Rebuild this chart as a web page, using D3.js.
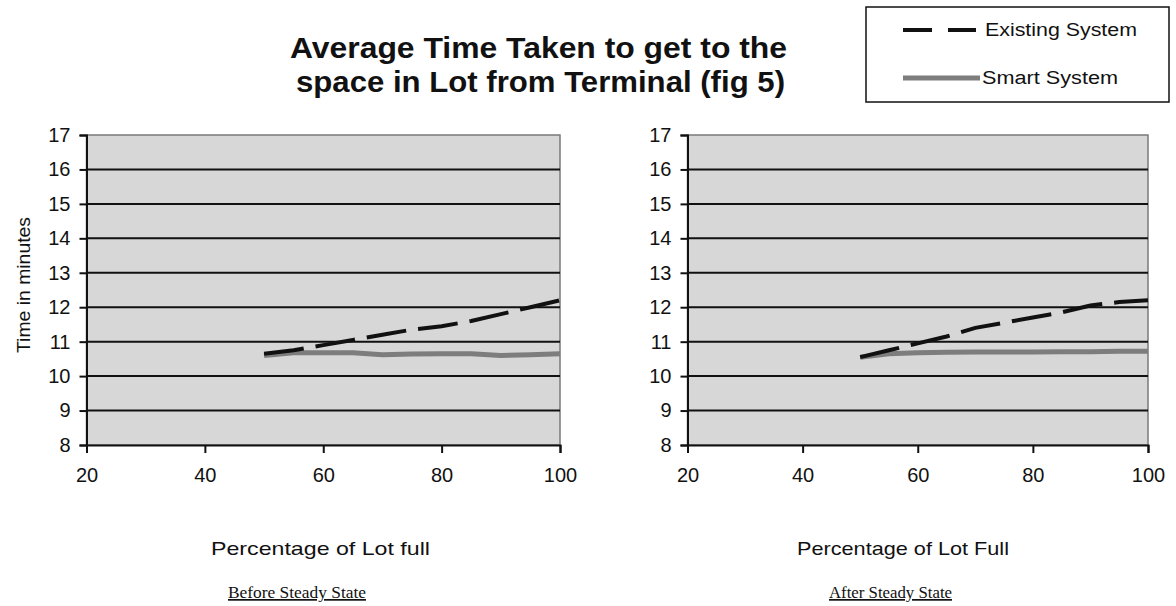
<!DOCTYPE html>
<html>
<head>
<meta charset="utf-8" />
<title>Average Time Taken (fig 5)</title>
<style>
    body { margin: 0; background: #fff; }
    svg { display: block; }
    text { font-family: "Liberation Sans", Arial, sans-serif; fill: #111; }
    .serif { font-family: "Liberation Serif", "Times New Roman", serif; text-decoration: underline; }
</style>
</head>
<body>
<svg width="1176" height="606"></svg>

<script src="https://cdnjs.cloudflare.com/ajax/libs/d3/7.8.5/d3.min.js"></script>
<script>
// data
var percent = [50, 55, 60, 65, 70, 75, 80, 85, 90, 95, 100];
var beforeExisting = [10.65, 10.75, 10.9, 11.05, 11.2, 11.35, 11.45, 11.6, 11.8, 12.0, 12.2];
var beforeSmart = [10.6, 10.68, 10.68, 10.68, 10.62, 10.64, 10.65, 10.65, 10.6, 10.62, 10.65];
var afterExisting = [10.55, 10.75, 10.95, 11.15, 11.4, 11.55, 11.7, 11.85, 12.05, 12.15, 12.2];
var afterSmart = [10.55, 10.65, 10.68, 10.69, 10.7, 10.7, 10.7, 10.71, 10.71, 10.72, 10.72];
var xTicks = [20, 40, 60, 80, 100];
var yTicks = [8, 9, 10, 11, 12, 13, 14, 15, 16, 17];

var svg = d3.select('svg');

// text helper: size for height, textLength for the wide look of the original
function label(parent, x, y, txt, size, len) {
    var t = parent.append('text')
        .attr('x', x).attr('y', y)
        .style('font-size', size + 'px')
        .text(txt);
    if (len) t.attr('textLength', len).attr('lengthAdjust', 'spacingAndGlyphs');
    return t;
}

function drawPanel(opt) {
    var x = d3.scaleLinear().domain([20, 100]).range([opt.x0, opt.x1]);
    var y = d3.scaleLinear().domain([8, 17]).range([445, 135]);
    var g = svg.append('g');

    g.append('rect')
        .attr('x', x(20)).attr('y', y(17))
        .attr('width', x(100) - x(20)).attr('height', y(8) - y(17))
        .attr('fill', '#d7d7d7')
        .attr('stroke', '#7a7a7a').attr('stroke-width', 1.5);

    // gridlines
    g.selectAll('.grid')
        .data(yTicks.filter(function (d) { return d > 8 && d < 17; }))
        .enter().append('line')
        .attr('x1', x(20)).attr('x2', x(100))
        .attr('y1', function (d) { return y(d); })
        .attr('y2', function (d) { return y(d); })
        .attr('stroke', '#111').attr('stroke-width', 2);

    var yAxis = g.append('g')
        .attr('transform', 'translate(' + x(20) + ',0)')
        .call(d3.axisLeft(y).tickValues(yTicks).tickSize(7).tickPadding(9));
    var xAxis = g.append('g')
        .attr('transform', 'translate(0,' + y(8) + ')')
        .call(d3.axisBottom(x).tickValues(xTicks).tickSize(8).tickPadding(15));
    [yAxis, xAxis].forEach(function (a) {
        a.select('.domain').attr('stroke', '#111').attr('stroke-width', 2);
        a.selectAll('.tick line').attr('stroke', '#111').attr('stroke-width', 2);
        a.selectAll('.tick text')
            .style('font-family', '"Liberation Sans", Arial, sans-serif')
            .style('font-size', '20px').attr('fill', '#111');
    });

    var line = d3.line()
        .x(function (d, i) { return x(percent[i]); })
        .y(function (d) { return y(d); });

    g.append('path')
        .attr('d', line(opt.smart))
        .attr('fill', 'none')
        .attr('stroke', '#7d7d7d').attr('stroke-width', 5);
    g.append('path')
        .attr('d', line(opt.existing))
        .attr('fill', 'none')
        .attr('stroke', '#111').attr('stroke-width', 4)
        .attr('stroke-dasharray', '40,12');

    label(g, opt.titleX, 555, opt.xTitle, 19, opt.titleLen);
    label(g, opt.subX, 598, opt.sub, 17, opt.subLen).attr('class', 'serif');
}

drawPanel({
    x0: 86.5, x1: 560, existing: beforeExisting, smart: beforeSmart,
    xTitle: 'Percentage of Lot full', titleX: 211, titleLen: 219,
    sub: 'Before Steady State', subX: 228, subLen: 138
});
drawPanel({
    x0: 687.5, x1: 1148, existing: afterExisting, smart: afterSmart,
    xTitle: 'Percentage of Lot Full', titleX: 797, titleLen: 212,
    sub: 'After Steady State', subX: 829, subLen: 123
});

// y title
svg.append('text')
    .attr('transform', 'translate(30,285) rotate(-90)')
    .attr('text-anchor', 'middle')
    .style('font-size', '18px')
    .attr('textLength', 136).attr('lengthAdjust', 'spacingAndGlyphs')
    .text('Time in minutes');

// main title
label(svg, 290, 58, 'Average Time Taken to get to the', 30, 497).style('font-weight', 'bold');
label(svg, 296, 92, 'space in Lot from Terminal (fig 5)', 30, 489).style('font-weight', 'bold');

// legend
var lg = svg.append('g');
lg.append('rect')
    .attr('x', 866).attr('y', 7).attr('width', 303).attr('height', 95)
    .attr('fill', '#fff').attr('stroke', '#111').attr('stroke-width', 1.5);
lg.append('line')
    .attr('x1', 903).attr('x2', 976).attr('y1', 30).attr('y2', 30)
    .attr('stroke', '#111').attr('stroke-width', 4)
    .attr('stroke-dasharray', '29,16');
lg.append('line')
    .attr('x1', 903).attr('x2', 980).attr('y1', 78).attr('y2', 78)
    .attr('stroke', '#7d7d7d').attr('stroke-width', 5);
label(lg, 985, 36, 'Existing System', 18, 152);
label(lg, 982, 84, 'Smart System', 18, 136);
</script>
</body>
</html>
